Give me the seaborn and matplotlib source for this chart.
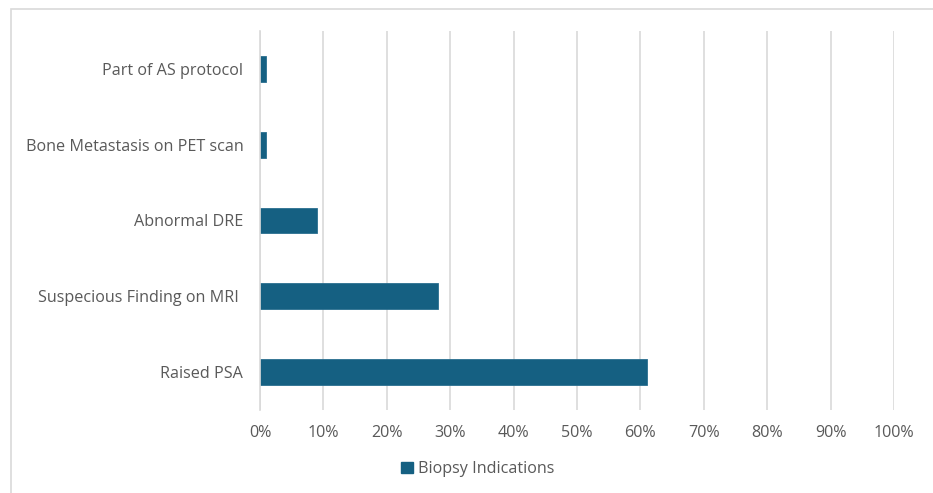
import numpy as np
import pandas as pd
import matplotlib
matplotlib.use("Agg")
import matplotlib.pyplot as plt
import seaborn as sns
from matplotlib.patches import Rectangle, Patch
from matplotlib.ticker import PercentFormatter

# data
indications = ["Part of AS protocol", "Bone Metastasis on PET scan", "Abnormal DRE",
               "Suspecious Finding on MRI ", "Raised PSA"]
shares = [0.01, 0.01, 0.09, 0.28, 0.61]
series_name = "Biopsy Indications"

df = pd.DataFrame({"Indication": indications, "Share": shares})

sns.set_style("white")
plt.rcParams["font.family"] = ["Open Sans", "DejaVu Sans"]

text_col = "#595959"
grid_col = "#d9d9d9"
bar_col = "#156082"
fs = 11.6

fig = plt.figure(figsize=(9.33, 4.93), dpi=100)
ax = fig.add_axes([260 / 933, 1 - 410 / 493, 634 / 933, 379 / 493])

sns.barplot(data=df, x="Share", y="Indication", orient="h", color=bar_col,
            width=0.34, saturation=1, edgecolor="#2a6f90", linewidth=0.6, ax=ax)

ax.set_xlim(0, 1)
ax.set_ylim(4.5, -0.5)
ax.set_xticks(np.arange(0, 1.01, 0.1))
ax.xaxis.set_major_formatter(PercentFormatter(1.0, decimals=0))
ax.grid(axis="x", color=grid_col, linewidth=1.2)
ax.set_axisbelow(True)
for s in ["top", "right", "bottom"]:
    ax.spines[s].set_visible(False)
ax.spines["left"].set_color(grid_col)
ax.spines["left"].set_linewidth(1.2)
ax.tick_params(axis="x", length=0, pad=11, labelsize=fs, labelcolor=text_col)
ax.tick_params(axis="y", length=0, pad=12, labelsize=fs, labelcolor=text_col)
ax.set_xlabel("")
ax.set_ylabel("")

ax.legend(handles=[Patch(facecolor=bar_col, edgecolor=bar_col, label=series_name)],
          loc="center", bbox_to_anchor=(478 / 933, 1 - 469 / 493),
          bbox_transform=fig.transFigure, frameon=False, fontsize=fs,
          labelcolor=text_col, handlelength=0.7, handleheight=0.7, handletextpad=0.35)

# chart area border (cropped at right and bottom)
fig.add_artist(Rectangle((11 / 933, -0.1), 1.2, 1.1 - 9 / 493, transform=fig.transFigure,
                         fill=False, edgecolor=grid_col, linewidth=1.2))

fig.savefig("out.png", dpi=100)
